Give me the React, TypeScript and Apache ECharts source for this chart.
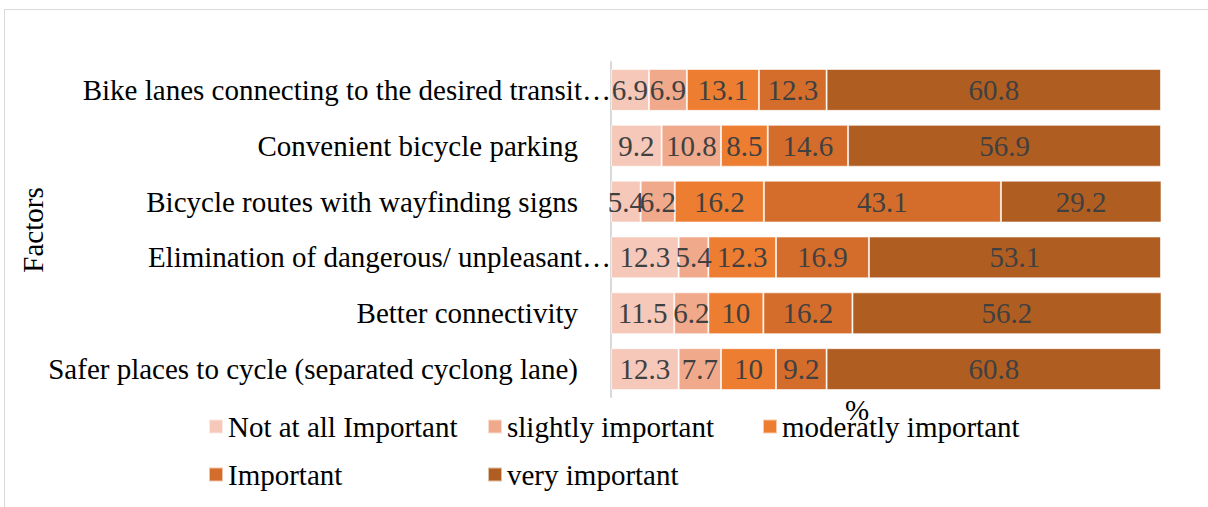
import React, { useEffect, useRef } from "react";
import * as echarts from "echarts";

const categories = [
  "Safer places to cycle (separated cyclong lane)",
  "Better connectivity",
  "Elimination of dangerous/ unpleasant…",
  "Bicycle routes with wayfinding signs",
  "Convenient bicycle parking",
  "Bike lanes connecting to the desired transit…",
];

const seriesNames = [
  "Not at all Important",
  "slightly important",
  "moderatly important",
  "Important",
  "very important",
];

const notAtAll = [12.3, 11.5, 12.3, 5.4, 9.2, 6.9];
const slightly = [7.7, 6.2, 5.4, 6.2, 10.8, 6.9];
const moderately = [10, 10, 12.3, 16.2, 8.5, 13.1];
const important = [9.2, 16.2, 16.9, 43.1, 14.6, 12.3];
const veryImportant = [60.8, 56.2, 53.1, 29.2, 56.9, 60.8];

const colors = ["#F5C8B9", "#F0A98B", "#ED7D31", "#D46D2B", "#B05D22"];

const FONT = "'Liberation Serif', 'Times New Roman', serif";
const FS = 29;

export default function App() {
  const ref = useRef<HTMLDivElement>(null);

  useEffect(() => {
    document.body.style.margin = "0";
    const chart = echarts.init(ref.current!, null, { renderer: "svg" });
    const values = [notAtAll, slightly, moderately, important, veryImportant];

    const series = values.map((data, i) => ({
      name: seriesNames[i],
      type: "bar",
      stack: "total",
      barWidth: "75%",
      data,
      itemStyle: { color: colors[i], borderColor: "rgba(255,255,255,0.6)", borderWidth: 1 },
      label: {
        show: true,
        position: "inside",
        color: "#404040",
        fontFamily: FONT,
        fontSize: FS,
      },
    }));

    const legendPos = [
      { left: 208, top: 412 },
      { left: 487, top: 412 },
      { left: 762, top: 412 },
      { left: 208, top: 460 },
      { left: 487, top: 460 },
    ];

    const labelFont = { fontFamily: FONT, fontSize: FS, color: "#000000" };

    chart.setOption({
      animation: false,
      textStyle: { fontFamily: FONT },
      grid: { left: 611, right: 47, top: 62, bottom: 110, containLabel: false },
      xAxis: {
        type: "value",
        min: 0,
        max: 100,
        axisLabel: { show: false },
        axisLine: { show: false },
        axisTick: { show: false },
        splitLine: { show: false },
      },
      yAxis: {
        type: "category",
        data: categories,
        axisTick: { show: false },
        axisLine: { show: true, lineStyle: { color: "#D9D9D9", width: 2 } },
        axisLabel: {
          margin: 0,
          ...labelFont,
          // truncated labels run up to the axis line, full ones keep a gap
          formatter: (v: string) => (v.endsWith("…") ? `{t|${v}}` : `{n|${v}}`),
          rich: {
            n: { ...labelFont, padding: [0, 33, 0, 0] },
            t: { ...labelFont, padding: [0, 0, 0, 0] },
          },
        },
      },
      legend: seriesNames.map((n, i) => ({
        data: [n],
        left: legendPos[i].left,
        top: legendPos[i].top,
        padding: 0,
        itemWidth: 14,
        itemHeight: 14,
        itemGap: 0,
        icon: "rect",
        textStyle: { fontFamily: FONT, fontSize: FS, color: "#000000" },
      })),
      graphic: [
        {
          type: "rect",
          shape: { x: 4.5, y: 9.5, width: 1250, height: 560 },
          style: { fill: "none", stroke: "#D9D9D9", lineWidth: 1 },
          silent: true,
        },
        {
          type: "text",
          x: 857,
          y: 410,
          style: { text: "%", font: `${FS}px ${FONT}`, fill: "#000000", textAlign: "center", textVerticalAlign: "middle" },
        },
        {
          type: "text",
          x: 33,
          y: 230,
          rotation: Math.PI / 2,
          style: { text: "Factors", font: `${FS}px ${FONT}`, fill: "#000000", textAlign: "center", textVerticalAlign: "middle" },
        },
      ],
      series,
    });

    return () => chart.dispose();
  }, []);

  return <div ref={ref} style={{ width: 1208, height: 507 }} />;
}
